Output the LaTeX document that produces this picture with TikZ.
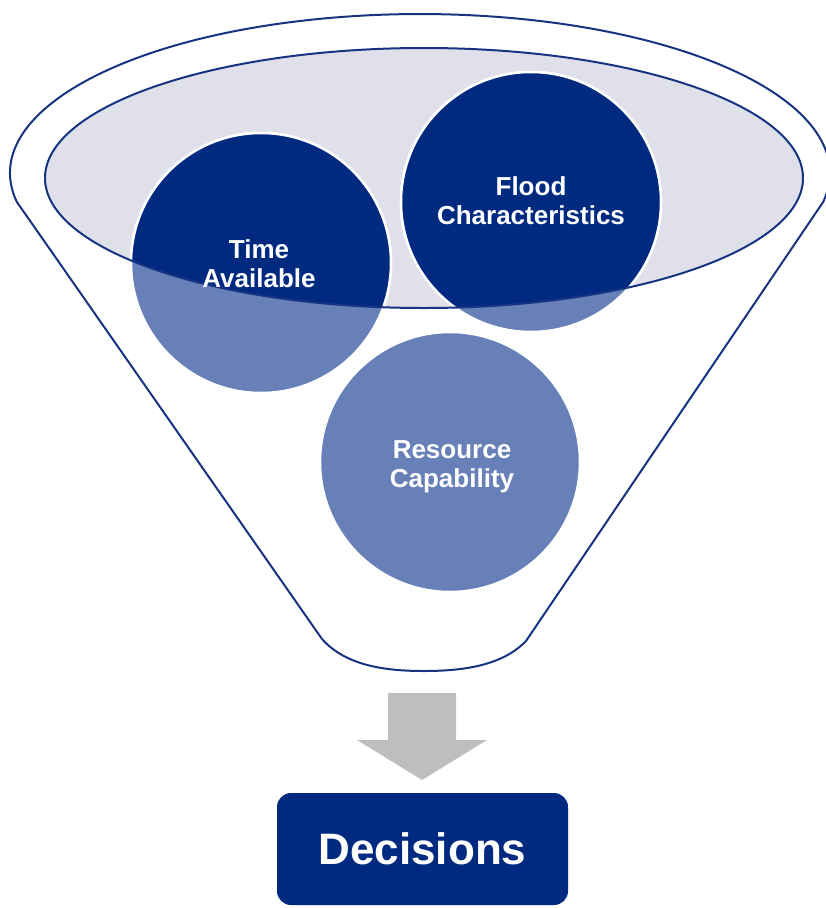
\documentclass[tikz,border=0pt]{standalone}
\usepackage{fontspec}
\setmainfont{Liberation Sans}
\definecolor{navy}{RGB}{0,41,128}
\definecolor{lightblue}{RGB}{104,128,184}
\definecolor{bowl}{RGB}{224,224,234}
\definecolor{edge}{RGB}{22,52,130}
\definecolor{arrowgray}{RGB}{190,190,190}
\tikzset{
  funnel/.style={draw=edge, line width=2pt, fill=white, line join=round},
  bubble/.style={circle, minimum size=260pt, inner sep=0pt, fill=lightblue, draw=white, line width=2.5pt},
  bubbletext/.style={text=white, font=\bfseries\fontsize{26}{29}\selectfont, align=center, inner sep=0pt},
  decbox/.style={rectangle, rounded corners=14pt, fill=navy, text=white, minimum width=291pt, minimum height=112pt, inner sep=0pt, font=\bfseries\fontsize{44}{48}\selectfont},
}
\begin{document}
\begin{tikzpicture}[x=1pt,y=-1pt]
\useasboundingbox (0,0) rectangle (826,908);
% funnel outline
\draw[funnel] (16.9,202) arc[start angle=169.5, end angle=370.5, x radius=410, y radius=159]
  -- (526,641) .. controls (502,666) and (462,671) .. (424,671)
  .. controls (386,671) and (346,666) .. (322,639) -- cycle;
% bowl
\fill[bowl] (424,178) ellipse[x radius=379, y radius=130];
% bubbles
\node[bubble] (time) at (261,263) {};
\node[bubble] (flood) at (531,202) {};
\node[bubble] (res) at (450,462) {};
\begin{scope}
  \clip (424,178) ellipse[x radius=379, y radius=130];
  \filldraw[fill=navy, draw=white, line width=2.5pt] (time.center) circle[radius=130pt];
  \filldraw[fill=navy, draw=white, line width=2.5pt] (flood.center) circle[radius=130pt];
\end{scope}
\draw[edge, line width=2pt] (424,178) ellipse[x radius=379, y radius=130];
% labels
\node[bubbletext] (timetext) at (259,264) {Time\\Available};
\node[bubbletext] (floodtext) at (531,201) {Flood\\Characteristics};
\node[bubbletext] (restext) at (452,467) {Resource\\Capability};
% arrow
\fill[arrowgray] (388,693) -- (456,693) -- (456,740) -- (487,740) -- (422,780) -- (357,740) -- (388,740) -- cycle;
% decisions
\node[decbox] (dec) at (422.5,849) {Decisions};
\end{tikzpicture}
\end{document}
